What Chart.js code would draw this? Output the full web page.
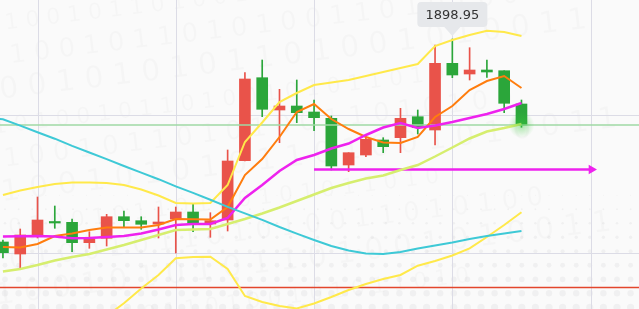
<!DOCTYPE html>
<html>
<head>
<meta charset="utf-8">
<script src="https://cdn.jsdelivr.net/npm/chart.js@4.4.1/dist/chart.umd.min.js"></script>
<style>
  html, body { margin: 0; padding: 0; background: #fafafa; overflow: hidden; }
  canvas { display: block; }
</style>
</head>
<body>
<canvas id="chart" width="639" height="309"></canvas>
<script>
// candles (red = up, green = down)
const opens  = [1797.45,1791.45,1800.45,1807.70,1807.30,1797.10,1799.30,1810.10,1808.10,1806.45,1808.95,1812.45,1806.45,1808.45,1838.10,1879.60,1863.45,1865.45,1862.45,1859.30,1835.95,1840.95,1848.45,1849.60,1860.10,1853.45,1886.80,1881.45,1883.45,1883.10,1866.45]
const highs  = [1798.45,1803.95,1819.95,1815.45,1808.95,1802.60,1811.30,1812.95,1810.10,1814.95,1814.95,1816.80,1812.10,1843.45,1882.10,1888.45,1873.80,1878.45,1868.45,1860.45,1842.10,1850.10,1849.60,1864.30,1863.45,1895.95,1898.95,1894.60,1888.45,1883.10,1868.45]
const lows   = [1789.45,1784.45,1799.45,1804.30,1792.60,1794.30,1795.45,1805.10,1803.80,1799.45,1791.95,1802.60,1799.80,1802.95,1837.95,1860.10,1847.10,1857.10,1853.10,1833.45,1832.60,1840.10,1842.10,1842.10,1851.45,1845.95,1879.60,1878.45,1879.80,1862.10,1854.80]
const closes = [1792.10,1800.95,1808.45,1806.95,1797.10,1798.80,1810.10,1808.10,1806.30,1807.45,1812.45,1806.80,1808.10,1837.95,1878.95,1863.80,1865.45,1862.10,1859.60,1835.45,1842.10,1848.80,1845.10,1859.30,1854.70,1886.80,1880.95,1883.45,1882.45,1866.80,1855.95]

// indicator lines
const ma5     = [1794.95,1794.70,1796.45,1800.45,1801.70,1803.45,1804.70,1804.70,1804.70,1805.95,1808.95,1808.80,1808.70,1814.95,1830.95,1838.95,1849.95,1862.45,1866.45,1858.95,1853.95,1849.95,1847.20,1846.95,1849.95,1859.95,1865.45,1873.45,1877.95,1880.45,1874.45]
const ma10    = [1800.20,1800.35,1800.45,1800.20,1799.30,1799.45,1799.95,1800.45,1801.70,1803.70,1805.95,1806.45,1806.45,1809.45,1819.45,1825.95,1832.95,1838.45,1840.95,1844.20,1846.70,1850.95,1854.70,1856.95,1854.45,1855.70,1857.45,1859.45,1861.45,1863.95,1866.95]
const bollMid = [1782.70,1783.95,1785.95,1788.20,1789.95,1791.45,1793.70,1795.95,1798.45,1800.95,1803.45,1803.70,1803.95,1806.45,1808.95,1811.70,1814.70,1817.95,1821.20,1824.45,1826.95,1829.20,1830.70,1833.45,1835.95,1840.20,1844.70,1849.20,1852.70,1854.45,1856.45]
const bollUp  = [1820.95,1823.20,1824.95,1826.45,1827.20,1827.20,1826.95,1825.95,1823.70,1820.70,1816.95,1816.70,1816.95,1825.95,1847.45,1857.20,1867.45,1871.95,1875.95,1877.20,1878.45,1880.45,1882.45,1884.45,1886.45,1895.45,1898.45,1900.95,1903.10,1902.45,1900.45]
const bollLow = [1744.45,1744.95,1746.95,1749.95,1752.95,1755.95,1760.45,1766.80,1774.20,1780.95,1789.30,1789.95,1790.10,1783.95,1770.45,1767.45,1765.45,1764.20,1766.70,1769.95,1773.45,1776.45,1778.95,1780.95,1785.60,1787.95,1790.70,1794.30,1799.95,1805.95,1812.30]
const ma60    = [1859.45,1858.85,1855.65,1852.35,1849.10,1845.50,1842.20,1838.90,1835.45,1832.15,1828.85,1825.25,1822.00,1818.60,1815.00,1811.75,1808.50,1804.95,1801.65,1798.45,1795.45,1793.20,1791.70,1791.45,1792.45,1794.20,1795.70,1797.20,1798.95,1800.45,1801.70,1802.95]

// levels and grid
const redLevel = 1774.70
const arrowLevel = 1833.70
const arrowFrom = 18
const arrowTo = 34.05
const xGrid = [2, 10, 18, 26, 34]
const yGrid = [1791.95, 1860.95]
const yMin = 1763.95
const yMax = 1918.45
const xMin = -0.17
const xMax = 36.8

const RED = '#e9534a'
const GREEN = '#2ba63a'

function points(values){
    return values.map((v, i) => ({x: i, y: v}))
}

let candleColors = closes.map((c, i) => c >= opens[i] ? RED : GREEN)
let bodies = closes.map((c, i) => ({x: i, y: [opens[i], c]}))
let wicks = closes.map((c, i) => ({x: i, y: [lows[i], highs[i]]}))
let last = closes.length - 1

function lineSet(values, color, width){
    return {
        type: 'line',
        data: points(values),
        borderColor: color,
        borderWidth: width,
        pointRadius: 0,
        tension: 0,
        order: 1
    }
}

function hline(value, color){
    return {
        type: 'line',
        data: [{x: xMin - 1, y: value}, {x: xMax + 1, y: value}],
        borderColor: color, borderWidth: 1.5, pointRadius: 0, order: 3
    }
}

// faint background: binary watermark, dots and grid
const background = {
    id: 'background',
    beforeDatasetsDraw(chart){
        let c = chart.ctx
        let xs = chart.scales.x
        let ys = chart.scales.y
        c.save()
        c.fillStyle = '#fafafa'
        c.fillRect(0, 0, chart.width, chart.height)
        c.fillStyle = 'rgba(0,0,0,0.018)'
        let rows = ['1 0 1 0 0 1 0 1 1 0 1 0 0 1 0 1 0 1 1 0 1 0',
                    '0 1 0 0 1 0 1 1 0 1 0 1 0 0 1 1 0 1 0 1 0 0',
                    '1 0 0 1 0 1 0 1 0 1 1 0 1 0 0 1 0 1 0 0 1 1']
        c.rotate(-0.12)
        for(let r = 0; r < 10; r++){
            c.font = (22 + (r % 3) * 4) + 'px "DejaVu Sans"'
            c.fillText(rows[r % 3], -40 + (r % 2) * 18, 30 + r * 34)
        }
        c.setTransform(1, 0, 0, 1, 0, 0)
        c.fillStyle = 'rgba(0,0,30,0.04)'
        for(let y = 307.3; y > 190; y -= 14){
            let rad = 0.6 + (y - 197) / 110 * 3
            for(let x = 549 - 13.6 * 40; x < 645; x += 13.6){
                c.beginPath()
                c.arc(x, y, rad, 0, Math.PI * 2)
                c.fill()
            }
        }
        c.strokeStyle = '#dcdce6'
        c.lineWidth = 1
        for(let v of xGrid){
            let px = Math.round(xs.getPixelForValue(v)) + 0.5
            c.beginPath()
            c.moveTo(px, 0)
            c.lineTo(px, chart.height)
            c.stroke()
        }
        for(let v of yGrid){
            let py = Math.round(ys.getPixelForValue(v)) + 0.5
            c.beginPath()
            c.moveTo(0, py)
            c.lineTo(chart.width, py)
            c.stroke()
        }
        c.restore()
    }
}

// glow on the last close, and the price label on the highest high
const overlay = {
    id: 'overlay',
    afterDatasetsDraw(chart){
        let c = chart.ctx
        let xs = chart.scales.x
        let ys = chart.scales.y
        let gx = xs.getPixelForValue(last)
        let gy = ys.getPixelForValue(closes[last])
        let g = c.createRadialGradient(gx, gy, 0, gx, gy, 13)
        g.addColorStop(0, 'rgba(60,200,60,0.45)')
        g.addColorStop(1, 'rgba(60,200,60,0)')
        c.save()
        c.fillStyle = g
        c.beginPath()
        c.arc(gx, gy, 13, 0, Math.PI * 2)
        c.fill()

        let top = Math.max(...highs)
        let ti = highs.indexOf(top)
        let tx = xs.getPixelForValue(ti)
        let tipY = ys.getPixelForValue(top) - 3
        let bw = 70, bh = 25
        let bx = tx - 35, by = tipY - 9 - bh
        c.fillStyle = '#e6e8eb'
        c.beginPath()
        c.roundRect(bx, by, bw, bh, 4)
        c.fill()
        c.beginPath()
        c.moveTo(tx - 8, by + bh)
        c.lineTo(tx, tipY)
        c.lineTo(tx + 8, by + bh)
        c.fill()
        c.fillStyle = '#333'
        c.font = '13px "DejaVu Sans"'
        c.textAlign = 'center'
        c.textBaseline = 'middle'
        c.fillText(top.toFixed(2), tx, by + bh / 2 + 1)
        c.restore()
    }
}

// the long average starts one bar before the first candle
let ma60Points = ma60.map((v, i) => ({x: i - 1, y: v}))

let chart = new Chart(document.getElementById('chart'), {
    type: 'bar',
    data: {
        datasets: [
            hline(redLevel, '#e3462c'),
            hline(closes[last], '#9fd9a4'),
            {
                type: 'line', data: ma60Points, borderColor: '#3ec9d6',
                borderWidth: 2, pointRadius: 0, order: 1
            },
            lineSet(bollLow, '#ffe94a', 2),
            lineSet(bollUp, '#ffe94a', 2),
            lineSet(bollMid, '#d6ee6e', 2.5),
            lineSet(ma10, '#ee22ee', 2.5),
            lineSet(ma5, '#ff7d0e', 2),
            {
                type: 'line',
                data: [{x: arrowFrom, y: arrowLevel}, {x: arrowTo, y: arrowLevel}],
                borderColor: '#ee22ee',
                backgroundColor: '#ee22ee',
                borderWidth: 2.5,
                pointRadius: [0, 5.5],
                pointStyle: 'triangle',
                pointRotation: 90,
                pointBorderWidth: 0,
                order: 1
            },
            {
                data: wicks,
                backgroundColor: candleColors,
                barThickness: 1,
                grouped: false,
                order: 5
            },
            {
                data: bodies,
                backgroundColor: candleColors,
                barThickness: 11,
                grouped: false,
                order: 4
            }
        ]
    },
    options: {
        responsive: false,
        animation: false,
        devicePixelRatio: 1,
        layout: {padding: 0, autoPadding: false},
        plugins: {legend: {display: false}, tooltip: {enabled: false}},
        scales: {
            x: {type: 'linear', min: xMin, max: xMax, offset: false, display: false},
            y: {type: 'linear', min: yMin, max: yMax, display: false}
        }
    },
    plugins: [background, overlay]
})
</script>
</body>
</html>
